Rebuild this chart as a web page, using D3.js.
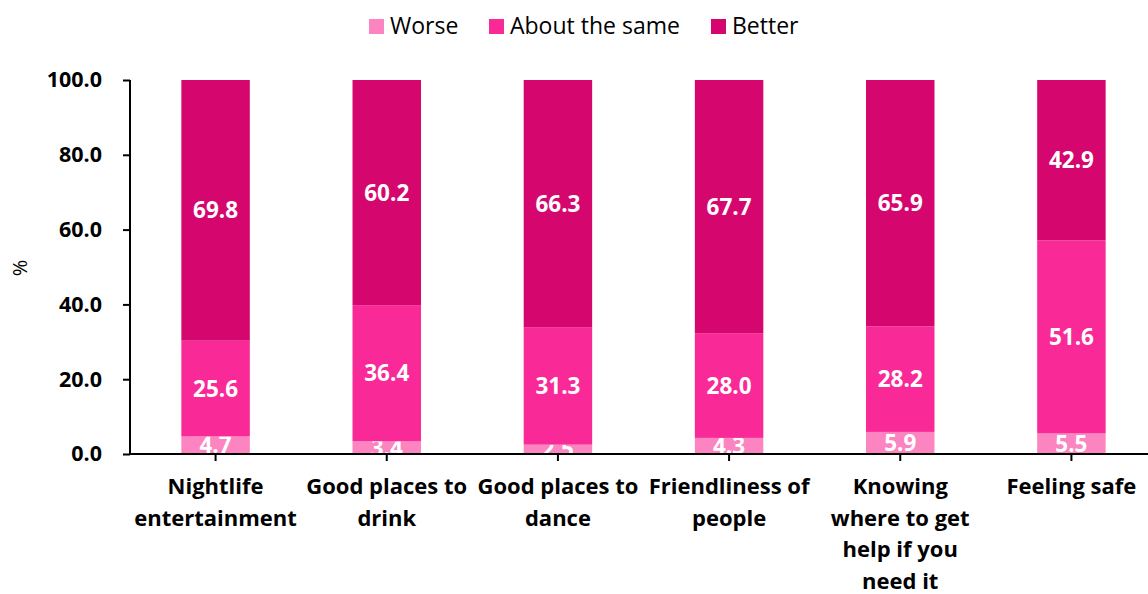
<!DOCTYPE html>
<html><head><meta charset="utf-8">
<script src="https://cdn.jsdelivr.net/npm/d3@7"></script>
<style>
body{margin:0;background:#fff;}
svg{display:block;font-family:"Open Sans",Lato,sans-serif;}
</style></head>
<body><svg id="c" width="1148" height="594"></svg>
<script>
const categories = [
  ["Nightlife","entertainment"],
  ["Good places to","drink"],
  ["Good places to","dance"],
  ["Friendliness of","people"],
  ["Knowing","where to get","help if you","need it"],
  ["Feeling safe"]
];
const seriesNames = ["Worse","About the same","Better"];
const worse = [4.7,3.4,2.5,4.3,5.9,5.5];
const same = [25.6,36.4,31.3,28.0,28.2,51.6];
const better = [69.8,60.2,66.3,67.7,65.9,42.9];
const yTicks = [0,20,40,60,80,100];
const colors = ["#FC84C0","#F92A97","#D5076F"];

const svg = d3.select("#c");
const x = d3.scaleBand().domain(d3.range(categories.length)).range([130,1157]).paddingInner(0.6).paddingOuter(0.3);
const y = d3.scaleLinear().domain([0,100]).range([454,80]);

const series = [worse,same,better];
const g = svg.append("g");
series.forEach((vals,si)=>{
  vals.forEach((v,i)=>{
    let base = 0; for(let k=0;k<si;k++) base += series[k][i];
    const top = Math.min(100, base+v);
    g.append("rect").attr("x",x(i)).attr("width",x.bandwidth())
      .attr("y",y(top)).attr("height",y(base)-y(top)).attr("fill",colors[si]);
    g.append("text").attr("x",x(i)+x.bandwidth()/2).attr("y",y((base+top)/2))
      .attr("dy","0.36em").attr("text-anchor","middle").attr("fill","#fff")
      .attr("font-weight","bold").attr("font-size",22.5).text(v.toFixed(1));
  });
});

// y axis
const ya = svg.append("g").attr("transform","translate(130,0)")
  .call(d3.axisLeft(y).tickValues(yTicks).tickSize(7).tickPadding(21).tickFormat(d=>d.toFixed(1)));
ya.select(".domain").attr("stroke","#000").attr("stroke-width",2).attr("d","M0,80V455");
ya.selectAll(".tick line").attr("stroke","#000").attr("stroke-width",2);
ya.selectAll(".tick text").attr("font-size",21.5).attr("font-weight","bold").attr("fill","#000").attr("font-family","Open Sans");

// x axis
svg.append("line").attr("x1",129).attr("x2",1148).attr("y1",454).attr("y2",454).attr("stroke","#000").attr("stroke-width",2);
categories.forEach((lines,i)=>{
  const cx = x(i)+x.bandwidth()/2;
  svg.append("line").attr("x1",cx).attr("x2",cx).attr("y1",454).attr("y2",461).attr("stroke","#000").attr("stroke-width",2);
  const t = svg.append("text").attr("x",cx).attr("y",494).attr("text-anchor","middle")
    .attr("font-weight","bold").attr("font-size",22).attr("fill","#000");
  lines.forEach((l,j)=>t.append("tspan").attr("x",cx).attr("dy",j?31.5:0).text(l));
});

// y label
svg.append("text").attr("transform","translate(27,268) rotate(-90)").attr("text-anchor","middle")
  .attr("font-size",20).attr("fill","#000").text("%");

// legend
const legX = [369,489,711];
seriesNames.forEach((n,i)=>{
  svg.append("rect").attr("x",legX[i]).attr("y",19).attr("width",15).attr("height",15).attr("fill",colors[i]);
  svg.append("text").attr("x",legX[i]+21).attr("y",34).attr("font-size",23).attr("fill","#000").text(n);
});
</script></body></html>
